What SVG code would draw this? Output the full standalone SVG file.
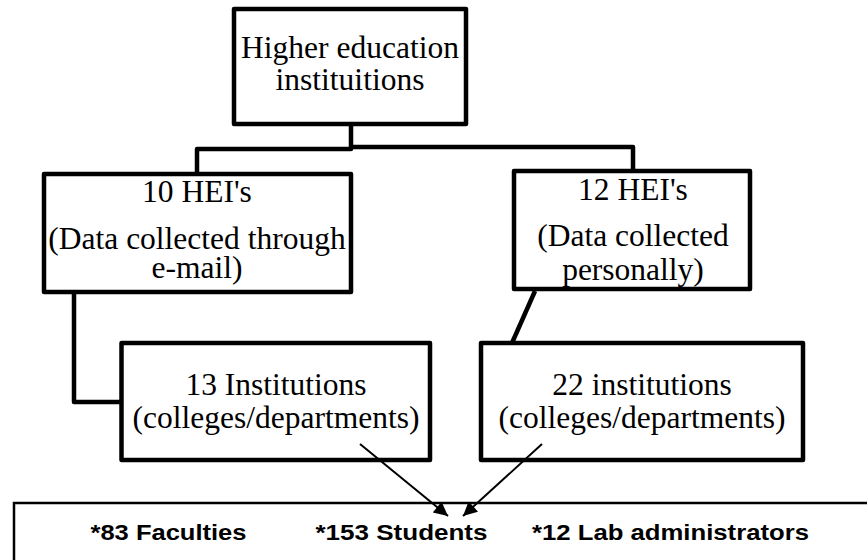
<svg xmlns="http://www.w3.org/2000/svg" width="867" height="560" viewBox="0 0 867 560">
<defs>
<style>
.box{fill:#fff;stroke:#000;stroke-width:4.5;stroke-linejoin:round}
.thin{fill:#fff;stroke:#000;stroke-width:2.5}
.t{font-family:"Liberation Serif","Times New Roman",serif;font-size:31.5px;fill:#000;text-anchor:middle}
.b{font-family:"Liberation Sans",Arial,sans-serif;font-size:22px;font-weight:bold;fill:#000}
.c{fill:none;stroke:#000;stroke-width:4.5;stroke-linejoin:round}
.a{fill:none;stroke:#000;stroke-width:2;marker-end:url(#ah)}
</style>
<marker id="ah" viewBox="0 0 10 10" refX="10" refY="5" markerWidth="8" markerHeight="7" orient="auto">
<path d="M0,0 L10,5 L0,10 z" fill="#000"/>
</marker>
</defs>
<rect width="867" height="560" fill="#fff"/>
<g id="connectors">
<path class="c" d="M351,124 V149 H197 V174"/>
<path class="c" d="M351,147 H633 V171"/>
<path class="c" d="M74,292 V402 H121"/>
<path class="c" d="M535,291 L512,343"/>
</g>
<g id="n-top">
<rect class="box" x="234" y="9" width="232" height="115"/>
<text class="t" x="350" y="58">Higher education</text>
<text class="t" x="350" y="90">instituitions</text>
</g>
<g id="n-left">
<rect class="box" x="44" y="174" width="307" height="118"/>
<text class="t" x="197" y="202">10 HEI's</text>
<text class="t" x="197" y="249">(Data collected through</text>
<text class="t" x="197" y="278">e-mail)</text>
</g>
<g id="n-right">
<rect class="box" x="514" y="171" width="236" height="118"/>
<text class="t" x="633" y="200">12 HEI's</text>
<text class="t" x="633" y="246">(Data collected</text>
<text class="t" x="633" y="280">personally)</text>
</g>
<g id="n-lowleft">
<rect class="box" x="121.5" y="343" width="308.5" height="117"/>
<text class="t" x="276" y="395">13 Institutions</text>
<text class="t" x="276" y="428">(colleges/departments)</text>
</g>
<g id="n-lowright">
<rect class="box" x="481" y="343" width="322" height="117"/>
<text class="t" x="642" y="395">22 institutions</text>
<text class="t" x="642" y="428">(colleges/departments)</text>
</g>
<g id="n-bottom">
<rect class="thin" x="14" y="503" width="900" height="100"/>
<text class="b" x="90.5" y="540" textLength="156" lengthAdjust="spacingAndGlyphs">*83 Faculties</text>
<text class="b" x="315.5" y="540" textLength="172" lengthAdjust="spacingAndGlyphs">*153 Students</text>
<text class="b" x="532" y="540" textLength="277" lengthAdjust="spacingAndGlyphs">*12 Lab administrators</text>
</g>
<g id="arrows">
<path class="a" d="M360,444 L448,516"/>
<path class="a" d="M542,444 L463,516"/>
</g>
</svg>
